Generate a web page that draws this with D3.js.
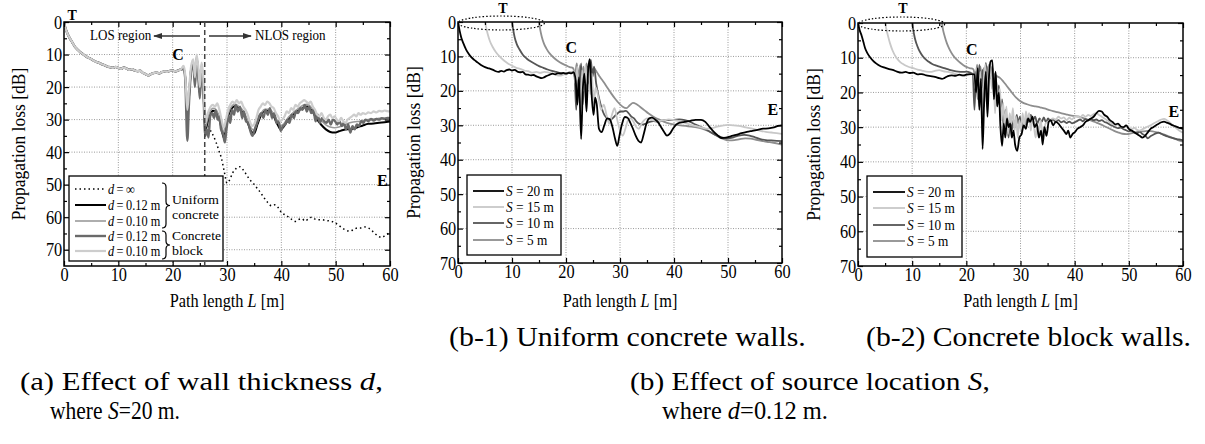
<!DOCTYPE html>
<html><head><meta charset="utf-8">
<script src="https://cdn.jsdelivr.net/npm/d3@7"></script>
<style>
body{margin:0;background:#fff}
.grid line{stroke:#9a9a9a;stroke-width:1;stroke-dasharray:1,1.5}
</style></head>
<body><svg id="chart" width="1205" height="444"></svg>
<script>
// ---- data: [path length L (m), propagation loss (dB)] ----
const xTicks = [0,10,20,30,40,50,60]
const xMinor = [5,15,25,35,45,55]

// (a) shared LOS part, S = 20 m
const aLos = [[0,0],[0.2,1.5],[0.5,3],[1,4.8],[1.5,6.2],[2,7.6],[2.5,8.5],[3,9.3],[3.5,9.9],[4,10.5],[4.5,11],[5,11.4],[5.5,11.9],[6,12.3],[6.5,12.6],[7,13],[7.5,13.3],[8,13.7],[8.5,13.9],[9,14.1],[9.5,13.8],[10,14.1],[10.5,14.4],[11,14],[11.5,14.3],[12,14.7],[12.5,14.5],[13,14.9],[13.5,15.1],[14,15],[14.5,15.6],[15,16],[15.5,16.4],[16,16],[16.5,15.7],[17,15.5],[17.5,15.8],[18,15.4],[18.5,15.2],[19,15.3],[19.5,15],[20,14.9],[20.5,15.2],[21,14.9],[21.5,14.6]]
const aInf = [[22,14],[22.4,19],[22.7,28],[23,23],[23.4,14.5],[23.8,12.5],[24.1,17.5],[24.4,11],[24.7,15],[25,22],[25.3,13.5],[25.6,18],[26,33],[26.5,32],[27,33.5],[27.5,35],[28,37],[28.5,39.5],[29,42],[29.5,46],[30,49.5],[30.5,48.5],[31,46.5],[31.7,45],[32.4,44.5],[33,45.5],[33.6,47],[34.2,48.5],[34.8,49.5],[35.5,51],[36.2,52.5],[36.8,54],[37.5,55.5],[38.2,56.5],[38.8,56.2],[39.4,57],[40,58.5],[40.7,59.3],[41.4,60],[42,60.8],[42.6,61.3],[43.2,60.7],[43.8,60.5],[44.4,61.2],[45,60.4],[45.6,60],[46.2,60.6],[46.8,60.8],[47.5,60.8],[48.2,61],[49,61.2],[49.8,61.6],[50.5,62.4],[51.2,63.3],[51.9,64],[52.6,64.3],[53.3,63.8],[54,63.3],[54.7,63.3],[55.4,63],[56,63.3],[56.6,64],[57.2,65],[57.8,65.8],[58.4,66.2],[59,65.8],[59.5,65.2],[60,64.6]]
const aUni12 = [[22,14.2],[22.4,19],[22.7,29],[23,23],[23.4,14.5],[23.8,12.5],[24.1,17.5],[24.4,11],[24.7,15],[25,22],[25.3,13.5],[25.6,18],[26,33.5],[26.4,31],[26.9,28.5],[27.4,27.3],[27.9,27.5],[28.4,29],[28.9,32],[29.4,35.5],[29.8,32],[30.3,28.5],[30.9,26.5],[31.5,25.8],[32.2,26.6],[33,28],[33.7,30.5],[34.4,33.5],[35,34.3],[35.6,31.5],[36.3,28.5],[37,27.3],[37.8,27.4],[38.6,29],[39.3,31.5],[39.9,33],[40.5,32],[41.3,30],[42.2,28.5],[43.1,27.3],[44,26.4],[44.8,26],[45.6,27.2],[46.4,29.5],[47.3,31.5],[48.2,33],[49,33.8],[49.8,34],[50.6,33.6],[51.4,33.2],[52.2,33],[53,32.9],[54,32.4],[55,31.8],[56,31.3],[57,31.2],[58,31],[59,30.8],[60,30.6]]
const aUni10 = [[22,14],[22.4,18],[22.7,26],[23,21],[23.4,14],[23.8,12],[24.1,16.5],[24.4,10.5],[24.7,14.5],[25,21],[25.3,13],[25.6,17],[26,32.5],[26.4,30],[26.9,27.5],[27.4,26.5],[27.9,26.8],[28.4,28.3],[28.9,31],[29.4,34],[29.8,31],[30.3,27.8],[30.9,25.8],[31.5,25.2],[32.2,26],[33,27.3],[33.7,29.8],[34.4,32.5],[35,33.3],[35.6,30.8],[36.3,28],[37,26.8],[37.8,26.8],[38.6,28.3],[39.3,30.6],[39.9,32],[40.5,31.2],[41.3,29.3],[42.2,27.8],[43.1,26.6],[44,25.6],[44.8,25.3],[45.6,26.5],[46.4,28.5],[47.3,30.2],[48.2,31.6],[49,32.3],[49.8,32.5],[50.6,32.3],[51.4,31.8],[52.2,31.2],[53,30.8],[54,30.6],[55,30.3],[56,30],[57,29.8],[58,29.6],[59,29.5],[60,29.4]]
const aBlk12 = [[22,14.5],[22.3,17],[22.7,36.5],[23,25],[23.4,15],[23.8,13],[24.1,20],[24.4,11.5],[24.7,16],[25,23.5],[25.3,14],[25.6,19],[26,35],[26.3,33],[26.6,35.5],[26.9,29],[27.3,28],[27.6,29.5],[27.9,27.2],[28.3,30],[28.6,29],[28.9,33],[29.3,34.5],[29.6,37],[29.9,33],[30.3,29],[30.6,31],[30.9,27],[31.3,28.5],[31.6,25.5],[32,27.5],[32.4,26],[32.8,29.5],[33.1,27.5],[33.5,30.5],[33.9,31],[34.3,33.5],[34.7,35],[35.1,33],[35.5,31],[35.9,29],[36.3,28],[36.7,29.5],[37.1,27],[37.5,28.5],[37.9,26.5],[38.3,29.5],[38.7,28],[39.1,31],[39.5,30.5],[39.9,33.5],[40.3,32],[40.7,31.5],[41.1,30],[41.5,31],[41.9,28.5],[42.3,29.5],[42.7,27.5],[43.1,28],[43.5,26.5],[43.9,27],[44.3,25.5],[44.7,27.5],[45.1,26],[45.5,28],[45.9,27],[46.3,30.5],[46.7,28.5],[47.1,31],[47.5,29.5],[47.9,30.5],[48.3,31],[48.7,30],[49.1,31.5],[49.5,30],[49.9,30.5],[50.3,31.5],[50.7,30.5],[51.1,32],[51.5,31],[51.9,33],[52.3,31.5],[52.7,34],[53.1,32],[53.5,33],[53.9,31.5],[54.3,32],[54.7,30.5],[55.1,31],[55.5,30],[56,30.5],[56.5,29.8],[57,30.3],[57.5,29.8],[58,30],[58.5,29.6],[59,29.8],[59.5,29.5],[60,29.6]]
const aBlk10 = [[22,13.5],[22.3,16],[22.7,27],[23,21],[23.4,13.5],[23.8,11.5],[24.1,17],[24.4,10],[24.7,13.5],[25,20],[25.3,12.5],[25.6,16],[26,31],[26.3,29],[26.6,27.5],[27,26],[27.4,25.5],[27.8,26],[28.2,25],[28.6,27],[29,30],[29.4,32.5],[29.8,30],[30.2,27],[30.6,25.5],[31,24.5],[31.4,25],[31.8,24],[32.2,25],[32.6,24.5],[33,26],[33.4,27],[33.8,28.5],[34.2,30.5],[34.6,32],[35,31.5],[35.4,29.5],[35.8,27],[36.2,26],[36.6,25],[37,25.5],[37.4,24.5],[37.8,25],[38.2,26],[38.6,26.5],[39,28],[39.4,29],[39.8,30.5],[40.2,30],[40.6,29],[41,27.5],[41.4,28],[41.8,26.5],[42.2,27],[42.6,25.5],[43,26],[43.4,25],[43.8,24.5],[44.2,24],[44.6,24.5],[45,25],[45.4,24.5],[45.8,26],[46.2,27],[46.6,28.5],[47,29],[47.4,28],[47.8,29.5],[48.2,30],[48.6,29],[49,28.5],[49.4,29.5],[49.8,29],[50.2,30],[50.6,30.5],[51,29.5],[51.4,30.5],[51.8,31],[52.2,30],[52.6,29.5],[53,29],[53.4,28.5],[53.8,29],[54.2,28],[54.6,28.5],[55,28],[55.5,28.3],[56,27.8],[56.5,28],[57,27.5],[57.5,27.8],[58,27.3],[58.5,27.5],[59,27.2],[59.5,27.4],[60,27.5]]
const aLegendValues = ['\u2009=\u2009\u221e','\u2009=\u20090.12 m','\u2009=\u20090.10 m','\u2009=\u20090.12 m','\u2009=\u20090.10 m']

// (b-1) uniform concrete walls, d = 0.12 m
const b1S20 = [[0,0],[0.3,2.5],[0.6,4.5],[1,6.2],[1.5,8],[2,9.3],[2.5,10.3],[3,11],[3.5,11.6],[4,12.2],[4.5,12.7],[5,13.1],[5.5,13.4],[6,13.6],[6.5,13.9],[7,14.3],[7.5,14.5],[8,14.2],[8.5,14.4],[9,14],[9.5,13.8],[10,14.1],[10.5,13.9],[11,14.4],[11.5,14.6],[12,14.5],[12.5,15.2],[13,15.3],[13.5,15.5],[14,15.4],[14.5,15.8],[15,16.1],[15.5,16.3],[16,16],[16.5,15.6],[17,15.3],[17.5,15],[18,15.2],[18.5,14.9],[19,15],[19.5,14.8],[20,15],[20.5,14.8],[21,14.9],[21.4,14.6],[21.8,17],[22.1,24],[22.4,16],[22.8,34],[23.1,20],[23.4,15],[23.8,26],[24.1,14],[24.4,10.8],[24.7,20],[25.1,27],[25.4,22],[25.7,24],[26.1,31],[26.6,32],[27.1,30],[27.6,28],[28.1,28.2],[28.6,30.5],[29.1,34],[29.5,36],[29.9,33],[30.4,29.5],[30.9,27.6],[31.4,27.8],[31.9,29.2],[32.4,31],[32.9,33],[33.4,34.5],[33.9,35],[34.4,32.5],[34.9,29.5],[35.4,28],[35.9,27.8],[36.5,28.3],[37,29],[37.6,30.5],[38.2,32],[38.7,33],[39.2,32.5],[39.8,31],[40.4,29.8],[41.2,29.2],[42,29],[43,28.7],[44,28.4],[45,28.4],[45.8,29],[46.5,30.3],[47.2,31.6],[48,32.8],[48.8,33.7],[49.6,33.6],[50.5,33.2],[51.5,32.8],[52.5,32.3],[53.5,31.9],[54.5,31.6],[55.5,31.3],[56.5,31],[57.5,30.9],[58.5,30.6],[59.3,30.2],[60,30]]
const b1S15 = [[5,0],[5.2,1.5],[5.5,3.5],[5.9,5.5],[6.4,7.2],[7,8.7],[7.7,10],[8.5,11.2],[9.3,12.1],[10,12.7],[10.8,13.3],[11.5,13.6],[12.3,14.1],[13,14.3],[13.7,14.7],[14.5,14.5],[15.2,14.8],[16,14.5],[16.8,14.7],[17.5,15],[18.2,15.4],[18.9,15.6],[19.5,15.3],[20.2,15],[21,14.5],[21.5,14.3],[21.8,18],[22.1,13],[22.4,22],[22.7,25],[23,14],[23.3,20],[23.6,12.5],[23.9,18],[24.2,13],[24.5,21],[24.8,15],[25.1,24],[25.5,19],[26,22],[26.5,25.5],[27,24],[27.5,27],[28,29.5],[28.5,27],[29,25],[29.5,28.5],[30,31.5],[30.5,33],[31,31],[31.5,28.5],[32,28],[32.5,29],[33,30.5],[33.5,31],[34,29.5],[34.5,28.5],[35,28],[35.5,28.2],[36,28.5],[37,28.8],[38,28.6],[39,28.3],[40,28.5],[41,28.8],[42,29.3],[43,29.8],[44,30.2],[45,30.6],[46,31],[47,30.8],[48,30.4],[49,30.1],[50,29.9],[51,30],[52,30.2],[53,30.5],[54,30.8],[55,31.2],[56,31.6],[57,31.9],[58,32.1],[59,32.3],[60,32.5]]
const b1S10 = [[10,0],[10.2,2],[10.5,4.5],[10.9,6.5],[11.4,8],[12,9.5],[12.7,10.6],[13.5,11.5],[14.3,12.2],[15,12.8],[15.8,13.3],[16.6,13.8],[17.4,14.2],[18.2,14.5],[19,14.8],[19.8,15],[20.5,14.7],[21.2,14.5],[21.6,16],[21.9,25.5],[22.2,14],[22.5,20],[22.8,12],[23.1,24],[23.4,15],[23.7,21],[24,13],[24.3,18],[24.6,11],[24.9,16],[25.2,13],[25.6,18],[26.1,22],[26.6,25],[27.1,27],[27.6,28],[28.1,28.5],[28.6,28],[29.1,27.2],[29.6,26.5],[30.1,26],[30.6,26],[31.1,25.8],[31.6,26.5],[32.1,27.5],[32.6,28],[33.1,29],[33.6,29.6],[34.2,29.8],[34.8,29.5],[35.5,29],[36.2,28.8],[37,29],[38,28.6],[39,28.5],[40,28.4],[41,28.3],[42,28.5],[43,29],[44,29.8],[45,30.5],[46,31.3],[47,32.2],[48,33],[49,33.6],[50,33.8],[51,33.5],[52,33],[53,32.8],[54,33],[55,33.5],[56,34],[57,34.3],[58,34.4],[59,34.5],[60,34.6]]
const b1S5 = [[15,0],[15.2,2],[15.5,4.2],[15.9,6.2],[16.4,7.8],[17,9.2],[17.7,10.3],[18.5,11.3],[19.3,12.1],[20,12.6],[20.7,13.1],[21.3,13.4],[21.7,15],[22,12],[22.3,17],[22.6,12.5],[22.9,19],[23.2,13],[23.5,16],[23.8,12],[24.1,15],[24.4,12.5],[24.8,14],[25.2,13.5],[25.7,14.5],[26.3,16],[27,17.5],[27.7,19.2],[28.4,20.8],[29.1,22.3],[29.8,23.6],[30.5,24.6],[31.2,25],[31.8,24.2],[32.4,23.5],[33,23.8],[33.7,24.6],[34.5,25.6],[35.3,26.6],[36.2,27.5],[37.2,28.3],[38.2,29],[39.2,29.5],[40.2,29.8],[41.2,30],[42.2,30.2],[43.2,30.4],[44.2,30.6],[45.2,31],[46.2,31.6],[47.2,32.4],[48.2,33.3],[49.2,34],[50.2,34.4],[51.2,34.3],[52.2,34],[53.2,33.8],[54.2,33.9],[55.2,34.2],[56.2,34.5],[57.2,34.8],[58.2,35],[59.2,35.3],[60,35.6]]

// (b-2) concrete block walls, d = 0.12 m
const b2S20 = [[0,0],[0.3,2],[0.7,3.8],[1,5.5],[1.3,7.2],[1.7,8.6],[2.2,9.8],[2.8,10.9],[3.4,11.7],[4,12.3],[4.8,12.8],[5.6,13.2],[6.4,13.5],[7.2,14],[8,14.3],[8.8,14.1],[9.5,14.4],[10.2,14.3],[11,14.8],[11.8,14.7],[12.6,15.1],[13.4,15.3],[14.2,15.5],[15,15.9],[15.5,16.1],[16,15.8],[16.6,15.3],[17.3,15.1],[18,15.2],[18.7,14.9],[19.4,15.1],[20.2,14.8],[21,14.7],[21.5,14.8],[21.8,20],[22.1,13],[22.4,25],[22.7,16],[23,36.3],[23.3,22],[23.6,14],[23.9,27],[24.2,15],[24.5,11],[24.8,10.8],[25.1,22],[25.4,14],[25.7,24],[26,20],[26.3,30],[26.6,35.4],[26.9,29],[27.2,33],[27.5,27.5],[27.8,30],[28.1,29],[28.4,33],[28.7,31],[29,35],[29.4,36.8],[29.8,33],[30.2,32],[30.6,29.5],[31,30.5],[31.4,27.5],[31.8,28.5],[32.2,27],[32.6,30],[33,29],[33.4,33],[33.8,31],[34.1,35],[34.4,30],[34.8,32.5],[35.2,28.5],[35.6,28],[36,29.5],[36.5,28.5],[37,29],[37.5,30],[38,31],[38.5,32],[38.8,31],[39.2,33],[39.6,32],[40,31.5],[40.5,30.5],[41,30],[41.5,29.5],[42,28.5],[42.5,28],[43,27.5],[43.5,27],[44,26],[44.5,25.3],[45,25.5],[45.5,26.5],[46,27],[46.5,28],[47,28.5],[47.5,29.2],[48,29],[48.5,29.8],[49,30],[49.5,29.5],[50,30.5],[50.5,31],[51,31.5],[51.5,32],[52,32.5],[52.5,33],[53,32.5],[53.5,31.5],[54,30.5],[54.5,30],[55,29.5],[55.5,29],[56,28.6],[56.5,28.4],[57,28.7],[57.5,29],[58,29.4],[58.5,29.7],[59,30],[59.5,30.3],[60,30.5]]
const b2S15 = [[5,0],[5.2,1.5],[5.5,3.5],[5.9,5.8],[6.4,8],[7,9.8],[7.7,11.1],[8.5,12],[9.3,12.6],[10.2,13],[11,13.4],[11.8,13.7],[12.6,14],[13.4,14.1],[14.2,13.8],[15,13.6],[15.8,13.9],[16.6,14.1],[17.4,14.4],[18.2,14.8],[19,15.1],[19.7,15.2],[20.4,14.9],[21,14.6],[21.4,14.8],[21.7,19],[22,13],[22.3,24],[22.6,14],[22.9,29],[23.2,17],[23.5,12],[23.8,22],[24.1,14],[24.4,11.5],[24.7,19],[25,14],[25.3,26],[25.6,17],[25.9,23],[26.2,19],[26.5,28],[26.8,23],[27.1,30],[27.4,24],[27.7,32],[28,26],[28.3,29],[28.6,24.5],[28.9,31],[29.2,27],[29.5,33],[29.8,28],[30.1,31],[30.4,26],[30.7,30],[31,25.5],[31.3,28],[31.6,26],[31.9,31],[32.2,27],[32.5,30],[32.8,33],[33.1,29],[33.4,32],[33.7,28],[34,31],[34.3,33.5],[34.6,29],[35,28.5],[35.5,28],[36,27.5],[36.5,27.8],[37,27],[37.5,27.5],[38,27.2],[38.5,28],[39,27.3],[39.5,27.8],[40,27],[40.5,26.8],[41,27.2],[41.5,26.5],[42,27],[42.5,26.5],[43,26.8],[43.5,26.2],[44,26],[44.5,26.5],[45,27],[45.5,27.5],[46,28],[46.5,28.6],[47,29],[47.5,29.5],[48,29.2],[48.5,29.8],[49,30],[49.5,29.6],[50,30.2],[50.5,30.6],[51,30.2],[51.5,30.8],[52,31],[52.5,30.6],[53,30.2],[53.5,29.8],[54,29.5],[54.5,29],[55,28.6],[55.5,28.2],[56,27.8],[56.5,27.6],[57,28],[57.5,28.6],[58,29.3],[58.5,30],[59,30.6],[59.5,31.2],[60,31.6]]
const b2S10 = [[10,0],[10.2,2],[10.5,4.4],[10.8,6],[11.2,7.6],[11.7,9],[12.3,10.2],[13,11.1],[13.7,11.8],[14.5,12.3],[15.3,12.7],[16.1,13.1],[16.9,13.5],[17.7,13.8],[18.5,14],[19.3,14.1],[20,14],[20.7,14.3],[21.2,14.8],[21.5,25],[21.8,14],[22.1,22],[22.4,12],[22.7,20],[23,13.5],[23.3,24],[23.6,11.5],[23.9,18],[24.2,12],[24.5,16],[24.8,12.5],[25.1,19],[25.4,14.5],[25.7,24],[26,18],[26.3,27],[26.6,22],[26.9,30.5],[27.2,25],[27.5,28],[27.8,33],[28.1,27],[28.4,31],[28.7,28],[29,30],[29.3,26.5],[29.6,29],[29.9,27],[30.2,31],[30.5,28],[30.8,29.5],[31.1,27],[31.5,28.5],[31.9,26.5],[32.3,28],[32.7,27],[33.1,29],[33.5,27.5],[33.9,28.5],[34.3,27.2],[34.7,28.6],[35.1,27.5],[35.5,28.2],[36,27.8],[36.5,28.4],[37,28],[37.5,28.6],[38,28.3],[38.5,28.8],[39,28.4],[39.5,28.9],[40,28.6],[40.5,28.2],[41,27.8],[41.5,28.3],[42,27.7],[42.5,28.1],[43,27.6],[43.5,28],[44,27.8],[44.5,28.2],[45,28],[45.5,28.5],[46,28.8],[46.5,29.3],[47,29.6],[47.5,30],[48,30.3],[48.5,30.1],[49,30.6],[49.5,30.9],[50,31.2],[50.5,31],[51,31.5],[51.5,31.8],[52,31.3],[52.5,32],[53,32.4],[53.5,33.2],[54,32.6],[54.5,32.2],[55,31.8],[55.5,31.6],[56,31.9],[56.5,32.3],[57,32.6],[57.5,32.9],[58,33.1],[58.5,33.3],[59,33.5],[59.5,33.6],[60,33.8]]
const b2S5 = [[15.5,0],[15.7,2],[16,3.8],[16.4,5.8],[16.9,7.6],[17.5,9.2],[18.2,10.5],[19,11.6],[19.8,12.5],[20.6,13],[21.3,13.3],[21.7,16],[22,12],[22.3,18],[22.6,12.5],[22.9,17],[23.2,13],[23.5,16],[23.8,12.5],[24.1,15],[24.5,13.5],[25,14.5],[25.6,15.3],[26.2,15.8],[26.8,16.8],[27.4,18],[28,19.2],[28.6,20.4],[29.2,21.5],[29.8,22.3],[30.5,23],[31.2,23.4],[32,23.8],[32.8,24],[33.6,24.3],[34.4,24.6],[35.2,25],[36,25.4],[36.8,25.7],[37.6,26],[38.4,26.3],[39.2,26.6],[40,26.8],[40.8,27],[41.6,27.4],[42.4,27.8],[43.2,28.2],[44,28.7],[44.8,29.2],[45.6,29.8],[46.4,30.4],[47.2,31],[48,31.5],[48.8,31.9],[49.6,32],[50.4,31.8],[51.2,31.5],[52,31.3],[52.8,31.2],[53.6,31.1],[54.4,31.2],[55.2,31.5],[56,31.9],[56.8,32.3],[57.6,32.8],[58.4,33.3],[59.2,33.8],[60,34.2]]
const bLegendValues = ['20 m','15 m','10 m','5 m']

const FONT = "'Liberation Serif','Times New Roman',serif"
const svg = d3.select('#chart').attr('font-family',FONT)

// text placed with a transform; sx narrows the glyphs (the figure uses a tall, narrow Times face)
function txt(g,x,y,parts,o={}) {
  const t = g.append('text').attr('font-size',o.size||15)
    .attr('text-anchor',o.anchor||'start').attr('font-weight',o.bold?'bold':null)
  ;(typeof parts==='string'?[[parts]]:parts).forEach(([s,it])=>t.append('tspan').attr('font-style',it?'italic':null).text(s))
  let sx = o.sx||1
  if (o.len) sx = o.len/t.node().getComputedTextLength()
  t.attr('transform',`translate(${x},${y})${o.rotate?' rotate(-90)':''} scale(${sx},1)`)
  return t
}

function panel(p) {
  const x = d3.scaleLinear().domain([0,60]).range([p.left,p.right])
  const y = d3.scaleLinear().domain([0,p.yMax]).range([p.top,p.bottom])
  const g = svg.append('g')
  g.append('g').attr('class','grid').selectAll('line').data(xTicks.slice(1,-1)).join('line')
    .attr('x1',d=>x(d)).attr('x2',d=>x(d)).attr('y1',p.top).attr('y2',p.bottom)
  g.append('g').attr('class','grid').selectAll('line').data(p.yGrid).join('line')
    .attr('y1',d=>y(d)).attr('y2',d=>y(d)).attr('x1',p.left).attr('x2',p.right)
  svg.append('clipPath').attr('id','clip'+p.id).append('rect')
    .attr('x',p.left).attr('y',p.top).attr('width',p.right-p.left).attr('height',p.bottom-p.top)
  const line = d3.line().x(d=>x(d[0])).y(d=>y(d[1])).curve(d3.curveMonotoneX)
  g.append('g').attr('clip-path',`url(#clip${p.id})`).selectAll('path').data(p.series).join('path')
    .attr('d',s=>line(s.data)).attr('fill','none').attr('stroke',s=>s.color)
    .attr('stroke-width',s=>s.width).attr('stroke-dasharray',s=>s.dash||null).attr('stroke-linejoin','round')
  const ax = (gen,tr,vals,size,lab) => {
    const a = g.append('g').attr('transform',tr)
      .call(gen.tickValues(vals).tickSize(size).tickSizeOuter(0).tickPadding(2).tickFormat(lab?d3.format('d'):''))
    a.select('.domain').remove()
    a.selectAll('line').attr('stroke-width',1.2)
    a.selectAll('text').attr('font-size',19).attr('font-family',FONT).attr('transform','scale(0.86,1)')
  }
  ax(d3.axisBottom(x),`translate(0,${p.bottom})`,xTicks,-5,true)
  ax(d3.axisBottom(x),`translate(0,${p.bottom})`,xMinor,-3,false)
  ax(d3.axisTop(x),`translate(0,${p.top})`,xTicks,-5,false)
  ax(d3.axisTop(x),`translate(0,${p.top})`,xMinor,-3,false)
  ax(d3.axisLeft(y),`translate(${p.left},0)`,p.yTicks,-5,true)
  ax(d3.axisLeft(y),`translate(${p.left},0)`,p.yMinor,-3,false)
  ax(d3.axisRight(y),`translate(${p.right},0)`,p.yTicks,-5,false)
  ax(d3.axisRight(y),`translate(${p.right},0)`,p.yMinor,-3,false)
  g.append('rect').attr('x',p.left).attr('y',p.top).attr('width',p.right-p.left).attr('height',p.bottom-p.top)
    .attr('fill','none').attr('stroke','#000').attr('stroke-width',1.5)
  txt(g,p.yLabelX,(p.top+p.bottom)/2,'Propagation loss [dB]',{size:19,anchor:'middle',rotate:true,sx:0.92})
  txt(g,(p.left+p.right)/2,307,[['Path length '],['L',true],[' [m]']],{size:19,anchor:'middle',sx:0.86})
  return {x,y,g}
}

function legend(g,box,rows,series,labels,prefix,sx) {
  g.append('rect').attr('x',box.x).attr('y',box.y).attr('width',box.w).attr('height',box.h)
    .attr('fill','#fff').attr('stroke','#000').attr('stroke-width',1.3)
  series.forEach((s,i)=>{
    g.append('line').attr('x1',box.x+6).attr('x2',box.x+box.line).attr('y1',rows[i]).attr('y2',rows[i])
      .attr('stroke',s.color).attr('stroke-width',s.width).attr('stroke-dasharray',s.dash||null)
    txt(g,box.x+box.line+2,rows[i]+4.5,[[prefix,true],[labels[i]]],{size:14,sx})
  })
}

function brace(g,x,y1,y2,w) {
  const ym = (y1+y2)/2, r = 4, h = x+w/2
  g.append('path').attr('fill','none').attr('stroke','#000').attr('stroke-width',1.2)
    .attr('d',`M${x},${y1} Q${h},${y1} ${h},${y1+r} L${h},${ym-r} Q${h},${ym} ${x+w},${ym} Q${h},${ym} ${h},${ym+r} L${h},${y2-r} Q${h},${y2} ${x},${y2}`)
}

svg.append('defs').append('marker').attr('id','arr').attr('viewBox','0 0 10 10').attr('refX',9).attr('refY',5)
  .attr('markerWidth',7).attr('markerHeight',7).attr('orient','auto-start-reverse')
  .append('path').attr('d','M0,1.5L10,5L0,8.5Z').attr('fill','#333')

// ---- panel (a) ----
const aSeries = [
  {data:aLos.concat(aInf),color:'#000',width:1.5,dash:'1.5,3'},
  {data:aLos.concat(aUni12),color:'#000',width:2},
  {data:aLos.concat(aUni10),color:'#9a9a9a',width:1.6},
  {data:aLos.concat(aBlk12),color:'#6a6a6a',width:2.4},
  {data:aLos.concat(aBlk10),color:'#cdcdcd',width:2.2}
]
const pa = panel({id:'a',left:64,right:390,top:22,bottom:266,yMax:75,
  yTicks:[0,10,20,30,40,50,60,70],yMinor:[5,15,25,35,45,55,65],yGrid:[10,20,30,40,50,60,70],
  yLabelX:25,series:aSeries})
pa.g.append('line').attr('x1',pa.x(25.9)).attr('x2',pa.x(25.9)).attr('y1',22).attr('y2',266)
  .attr('stroke','#444').attr('stroke-width',1.5).attr('stroke-dasharray','5,3')
txt(pa.g,90,40,'LOS region',{size:15,sx:0.87})
txt(pa.g,255,40,'NLOS region',{size:15,sx:0.87})
pa.g.append('line').attr('x1',200).attr('x2',154).attr('y1',36).attr('y2',36).attr('stroke','#333').attr('stroke-width',1.3).attr('marker-end','url(#arr)')
pa.g.append('line').attr('x1',209).attr('x2',251).attr('y1',36).attr('y2',36).attr('stroke','#333').attr('stroke-width',1.3).attr('marker-end','url(#arr)')
txt(pa.g,pa.x(1.5),20,'T',{size:14,bold:true,anchor:'middle'})
txt(pa.g,pa.x(21),60,'C',{size:16,bold:true,anchor:'middle'})
txt(pa.g,pa.x(58.6),186,'E',{size:16,bold:true,anchor:'middle'})
legend(pa.g,{x:69,y:176,w:154,h:85,line:37},[189,205,221,236,251],aSeries,aLegendValues,'d',0.88)
brace(pa.g,162,183,228,8)
brace(pa.g,162,231,259,8)
txt(pa.g,172,204,'Uniform',{size:13.5,len:47})
txt(pa.g,172,219,'concrete',{size:13.5,len:47})
txt(pa.g,172,240,'Concrete',{size:13.5,len:49})
txt(pa.g,172,255,'block',{size:13.5,len:31})

// ---- panels (b-1), (b-2) ----
const bStyle = [{color:'#000',width:1.8},{color:'#c8c8c8',width:1.8},{color:'#555',width:1.8},{color:'#8e8e8e',width:1.8}]
function bPanel(id,left,right,top,bottom,yLabelX,data) {
  const series = data.map((d,i)=>({data:d,...bStyle[i]}))
  const p = panel({id,left,right,top,bottom,yMax:70,yTicks:[0,10,20,30,40,50,60,70],
    yMinor:[5,15,25,35,45,55,65],yGrid:[10,20,30,40,50,60],yLabelX,series:series.slice().reverse()})
  p.g.append('ellipse').attr('cx',p.x(8)).attr('cy',top+1).attr('rx',p.x(8)-p.x(0)).attr('ry',7)
    .attr('fill','none').attr('stroke','#000').attr('stroke-width',1.2).attr('stroke-dasharray','1.5,2')
  txt(p.g,p.x(8.3),13,'T',{size:14,bold:true,anchor:'middle'})
  return {p,series}
}
const b1 = bPanel('b1',458,782,22,263,420,[b1S20,b1S15,b1S10,b1S5])
txt(b1.p.g,b1.p.x(21),53,'C',{size:16,bold:true,anchor:'middle'})
txt(b1.p.g,b1.p.x(58.3),115,'E',{size:16,bold:true,anchor:'middle'})
legend(b1.p.g,{x:467,y:175,w:94,h:80,line:37},[191,207,223,240],b1.series,bLegendValues,'S\u2009=\u2009',0.95)
const b2 = bPanel('b2',858,1183,23,266,820,[b2S20,b2S15,b2S10,b2S5])
txt(b2.p.g,b2.p.x(21),55,'C',{size:16,bold:true,anchor:'middle'})
txt(b2.p.g,b2.p.x(58.3),117,'E',{size:16,bold:true,anchor:'middle'})
legend(b2.p.g,{x:867,y:176,w:95,h:81,line:38},[192,208,225,241],b2.series,bLegendValues,'S\u2009=\u2009',0.95)

// ---- captions ----
txt(svg,449,346,'(b-1) Uniform concrete walls.',{size:28,len:357})
txt(svg,866,346,'(b-2) Concrete block walls.',{size:28,len:325})
txt(svg,20,390,[['(a) Effect of wall thickness '],['d',true],[',']],{size:26,len:363})
txt(svg,50,419,[['where '],['S',true],['=20 m.']],{size:26,len:130})
txt(svg,630,390,[['(b) Effect of source location '],['S',true],[',']],{size:26,len:360})
txt(svg,662,419,[['where '],['d',true],['=0.12 m.']],{size:26,len:166})
</script></body></html>
